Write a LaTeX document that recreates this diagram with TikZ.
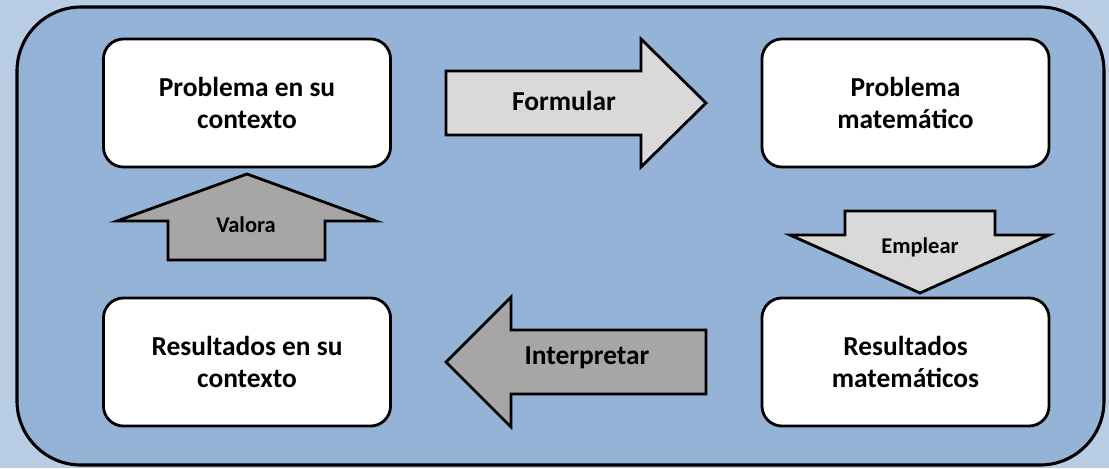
\documentclass[tikz,border=0pt]{standalone}
\usepackage{fontspec}
\setmainfont{Carlito}
\usepackage{xcolor}
\usepackage{tikz}
\usetikzlibrary{positioning, calc}

\definecolor{pagebg}{RGB}{185,205,229}
\definecolor{panelbg}{RGB}{149,179,215}
\definecolor{lightarrow}{RGB}{217,217,217}
\definecolor{darkarrow}{RGB}{166,166,166}

\begin{document}
\begin{tikzpicture}[x=0.025cm, y=-0.025cm,
        stage/.style={draw, line width=2pt, rounded corners=0.5cm, fill=white, minimum width=7.175cm, minimum height=3.2cm, align=center, font=\fontsize{19.5}{23}\selectfont\bfseries},
        blockarrow/.style={draw, line width=2pt, line join=miter},
        biglabel/.style={font=\fontsize{19.5}{23}\selectfont\bfseries},
        smalllabel/.style={font=\fontsize{16}{19}\selectfont\bfseries}]
        % page and panel
        \fill[pagebg] (0,0) rectangle (1109,468);
        \useasboundingbox (0,0) rectangle (1109,468);
        \draw[line width=2.2pt, fill=panelbg, rounded corners=1.6cm] (17,7) rectangle (1104,465);

        % the four stages
        \node[stage] (ctxprob) at (247,103) {Problema en su\\contexto};
        \node[stage] (mathprob) at (905.5,103) {Problema\\matemático};
        \node[stage] (mathres) at (905.5,362) {Resultados\\matemáticos};
        \node[stage] (ctxres) at (247,362) {Resultados en su\\contexto};

        % block arrows between them
        \draw[blockarrow, fill=lightarrow] (446,71) -- (641,71) -- (641,39) -- (706,103) -- (641,167) -- (641,135) -- (446,135) -- cycle;
        \node[biglabel] (formular) at (564,101) {Formular};

        \draw[blockarrow, fill=lightarrow] (845,211) -- (995,211) -- (995,235) -- (1049,235) -- (920,293) -- (790,235) -- (845,235) -- cycle;
        \node[smalllabel] (emplear) at (920,247) {Emplear};

        \draw[blockarrow, fill=darkarrow] (706,330) -- (511,330) -- (511,297) -- (446,362) -- (511,427) -- (511,394) -- (706,394) -- cycle;
        \node[biglabel] (interpretar) at (587,358) {Interpretar};

        \draw[blockarrow, fill=darkarrow] (168,260) -- (168,221) -- (117,221) -- (247,174) -- (376,221) -- (325,221) -- (325,260) -- cycle;
        \node[smalllabel] (valora) at (246,225) {Valora};
    \end{tikzpicture}
\end{document}
